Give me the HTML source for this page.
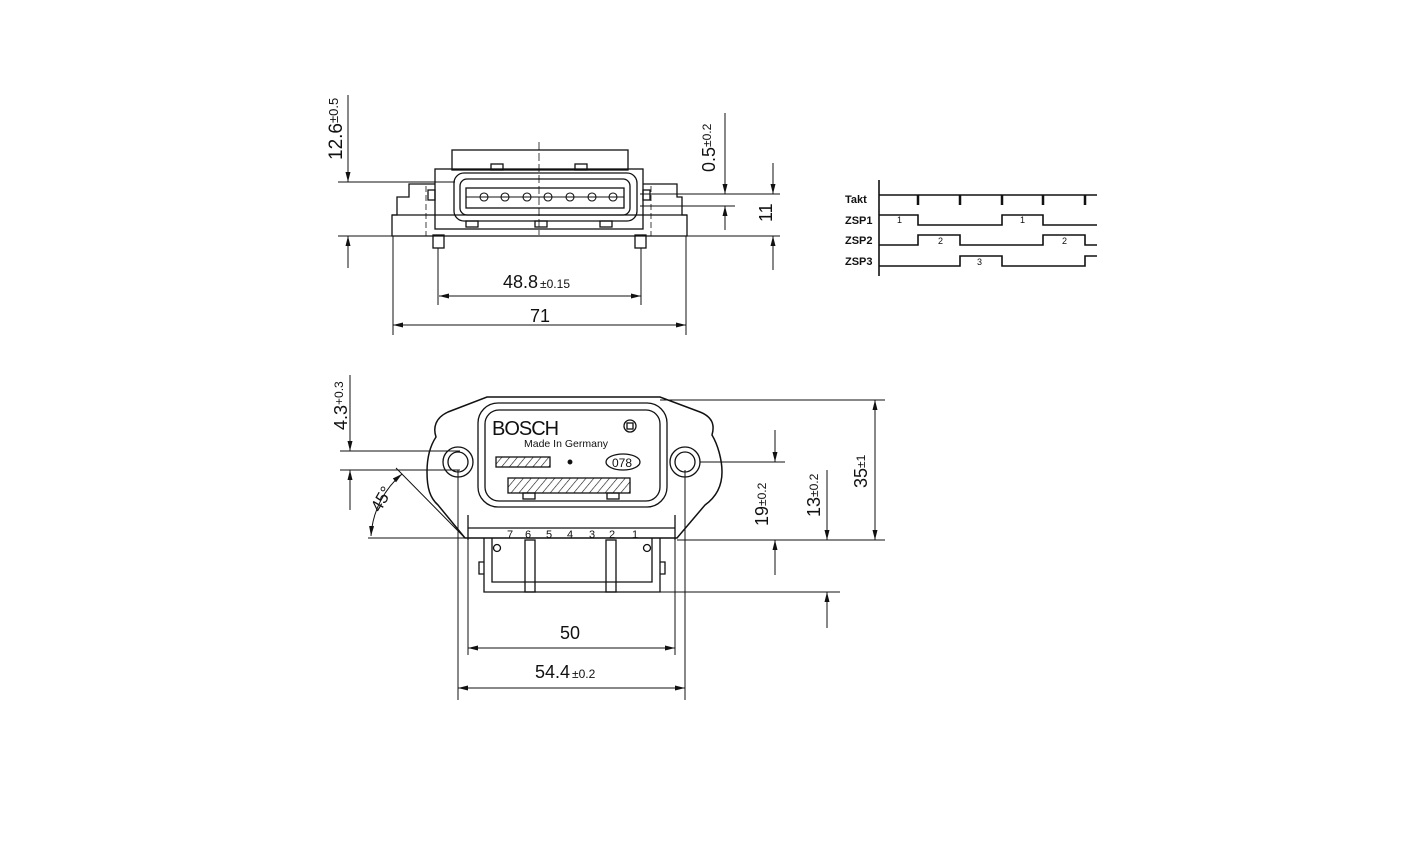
<!DOCTYPE html>
<html><head><meta charset="utf-8"><style>
html,body{margin:0;padding:0;background:#fff}
svg{display:block}
text{font-family:"Liberation Sans",sans-serif;fill:#111}
</style></head><body>
<svg width="1417" height="844" viewBox="0 0 1417 844" xmlns="http://www.w3.org/2000/svg">
<defs>
<marker id="a" markerWidth="10" markerHeight="6" refX="10" refY="3" orient="auto-start-reverse" markerUnits="userSpaceOnUse"><path d="M0,0.5 L10,3 L0,5.5z" fill="#111"/></marker>
<pattern id="h" width="6" height="6" patternUnits="userSpaceOnUse" patternTransform="rotate(40)"><line x1="0" y1="0" x2="0" y2="6" stroke="#111" stroke-width="1.2"/></pattern>
</defs>
<g stroke="#111" fill="none" stroke-width="1.3">
<rect x="452" y="150" width="176" height="20"/>
<rect x="435" y="169" width="208" height="60"/>
<rect x="454" y="173" width="183" height="48" rx="10"/>
<rect x="460" y="179" width="170" height="36" rx="7"/>
<rect x="466" y="188" width="158" height="20"/>
<g stroke-width="1.1">
<circle cx="484" cy="197" r="4"/><circle cx="505" cy="197" r="4"/><circle cx="527" cy="197" r="4"/><circle cx="548" cy="197" r="4"/><circle cx="570" cy="197" r="4"/><circle cx="592" cy="197" r="4"/><circle cx="613" cy="197" r="4"/>
<line x1="466" y1="197" x2="624" y2="197"/>
</g>
<rect x="491" y="164" width="12" height="6"/><rect x="575" y="164" width="12" height="6"/>
<rect x="466" y="221" width="12" height="6"/><rect x="535" y="221" width="12" height="6"/><rect x="600" y="221" width="12" height="6"/>
<rect x="428" y="190" width="7" height="10"/><rect x="643" y="190" width="7" height="10"/>
<path d="M435,184 H409 V197 H397 V215 H392 V236 H687 V215 H682 V197 H677 V184 H643"/>
<line x1="392" y1="215" x2="687" y2="215"/>
<rect x="433" y="235" width="11" height="13"/><rect x="635" y="235" width="11" height="13"/>
<line x1="539" y1="142" x2="539" y2="235" stroke-width="0.8" stroke-dasharray="8,3"/>
<line x1="426" y1="186" x2="426" y2="236" stroke-width="0.8" stroke-dasharray="6,3"/>
<line x1="651" y1="186" x2="651" y2="236" stroke-width="0.8" stroke-dasharray="6,3"/>
<g stroke-width="1">
<line x1="338" y1="182" x2="455" y2="182"/>
<line x1="338" y1="236" x2="780" y2="236"/>
<line x1="348" y1="95" x2="348" y2="182" marker-end="url(#a)"/>
<line x1="348" y1="268" x2="348" y2="236" marker-end="url(#a)"/>
<line x1="640" y1="194" x2="780" y2="194"/>
<line x1="640" y1="206" x2="735" y2="206"/>
<line x1="725" y1="113" x2="725" y2="194" marker-end="url(#a)"/>
<line x1="725" y1="230" x2="725" y2="206" marker-end="url(#a)"/>
<line x1="773" y1="163" x2="773" y2="194" marker-end="url(#a)"/>
<line x1="773" y1="270" x2="773" y2="236" marker-end="url(#a)"/>
<line x1="438" y1="248" x2="438" y2="305"/><line x1="641" y1="248" x2="641" y2="305"/>
<line x1="439" y1="296" x2="641" y2="296" marker-start="url(#a)" marker-end="url(#a)"/>
<line x1="393" y1="236" x2="393" y2="335"/><line x1="686" y1="236" x2="686" y2="335"/>
<line x1="393" y1="325" x2="686" y2="325" marker-start="url(#a)" marker-end="url(#a)"/>
</g>
<g stroke-width="1.6">
<line x1="879" y1="180" x2="879" y2="276"/>
<line x1="879" y1="195" x2="1097" y2="195"/>
<path d="M918,195 V205 M960,195 V205 M1002,195 V205 M1043,195 V205 M1085,195 V205" stroke-width="2.5"/>
<path d="M879,215 H918 V225 H1002 V215 H1043 V225 H1097"/>
<path d="M879,245 H918 V235 H960 V245 H1043 V235 H1085 V245 H1097"/>
<path d="M879,266 H960 V256 H1002 V266 H1085 V256 H1097"/>
</g>
<path d="M487,397 H660 L700,412 C715,418 714,428 712,435 C718,445 722,460 722,472 C722,490 712,500 705,505 L677,538 H465 L438,505 C430,498 427,488 427,472 C427,458 430,446 436,437 C433,428 435,418 448,412 Z" stroke-width="1.5"/>
<rect x="478" y="403" width="189" height="104" rx="20"/>
<rect x="485" y="410" width="175" height="91" rx="14"/>
<circle cx="458" cy="462" r="15"/><circle cx="458" cy="462" r="10"/>
<circle cx="685" cy="462" r="15"/><circle cx="685" cy="462" r="10"/>
<line x1="468" y1="528" x2="675" y2="528"/>
<line x1="468" y1="515" x2="468" y2="540"/><line x1="675" y1="515" x2="675" y2="540"/>
<path d="M484,538 V592 H660 V538"/>
<path d="M492,538 V582 H652 V538"/>
<rect x="525" y="540" width="10" height="52"/><rect x="606" y="540" width="10" height="52"/>
<circle cx="497" cy="548" r="3.5"/><circle cx="647" cy="548" r="3.5"/>
<path d="M484,562 H479 V574 H484 M660,562 H665 V574 H660"/>
<rect x="496" y="457" width="54" height="10" fill="url(#h)"/>
<rect x="508" y="478" width="122" height="15" fill="url(#h)"/>
<rect x="523" y="493" width="12" height="6"/><rect x="607" y="493" width="12" height="6"/>
<ellipse cx="623" cy="462" rx="17" ry="8"/>
<circle cx="630" cy="426" r="6"/><rect x="627" y="423" width="6" height="6"/>
<circle cx="570" cy="462" r="1.8" fill="#111"/>
<g stroke-width="1">
<line x1="340" y1="451" x2="460" y2="451"/>
<line x1="340" y1="470" x2="460" y2="470"/>
<line x1="350" y1="375" x2="350" y2="451" marker-end="url(#a)"/>
<line x1="350" y1="510" x2="350" y2="470" marker-end="url(#a)"/>
<line x1="368" y1="538" x2="465" y2="538"/>
<line x1="396" y1="468" x2="465" y2="538"/>
<path d="M371,536 A88,88 0 0 1 402,474" marker-start="url(#a)" marker-end="url(#a)"/>
<line x1="660" y1="400" x2="885" y2="400"/>
<line x1="677" y1="540" x2="885" y2="540"/>
<line x1="875" y1="400" x2="875" y2="540" marker-start="url(#a)" marker-end="url(#a)"/>
<line x1="700" y1="462" x2="785" y2="462"/>
<line x1="775" y1="430" x2="775" y2="462" marker-end="url(#a)"/>
<line x1="775" y1="575" x2="775" y2="540" marker-end="url(#a)"/>
<line x1="660" y1="592" x2="840" y2="592"/>
<line x1="827" y1="470" x2="827" y2="540" marker-end="url(#a)"/>
<line x1="827" y1="628" x2="827" y2="592" marker-end="url(#a)"/>
<line x1="458" y1="470" x2="458" y2="700"/><line x1="685" y1="470" x2="685" y2="700"/>
<line x1="468" y1="540" x2="468" y2="655"/><line x1="675" y1="540" x2="675" y2="655"/>
<line x1="468" y1="648" x2="675" y2="648" marker-start="url(#a)" marker-end="url(#a)"/>
<line x1="458" y1="688" x2="685" y2="688" marker-start="url(#a)" marker-end="url(#a)"/>
</g>
</g>
<text transform="translate(342,160) rotate(-90)" font-size="19">12.6<tspan font-size="13" dy="-4">±0.5</tspan></text>
<text transform="translate(715,172) rotate(-90)" font-size="18">0.5<tspan font-size="12" dy="-4">±0.2</tspan></text>
<text transform="translate(772,222) rotate(-90)" font-size="18">11</text>
<text x="503" y="288" font-size="18">48.8<tspan font-size="12" dx="2">±0.15</tspan></text>
<text x="530" y="322" font-size="18">71</text>
<g font-size="11" font-weight="bold">
<text x="845" y="203">Takt</text><text x="845" y="224">ZSP1</text><text x="845" y="244">ZSP2</text><text x="845" y="265">ZSP3</text>
</g>
<g font-size="9"><text x="897" y="223">1</text><text x="1020" y="223">1</text><text x="938" y="244">2</text><text x="1062" y="244">2</text><text x="977" y="265">3</text></g>
<text transform="translate(347,430) rotate(-90)" font-size="18">4.3<tspan font-size="12" dy="-4">+0.3</tspan></text>
<text transform="translate(380,513) rotate(-60)" font-size="17">45°</text>
<text transform="translate(867,488) rotate(-90)" font-size="18">35<tspan font-size="12" dy="-2">±1</tspan></text>
<text transform="translate(768,526) rotate(-90)" font-size="18">19<tspan font-size="12" dy="-2">±0.2</tspan></text>
<text transform="translate(820,517) rotate(-90)" font-size="18">13<tspan font-size="12" dy="-2">±0.2</tspan></text>
<text x="560" y="639" font-size="18">50</text>
<text x="535" y="678" font-size="18">54.4<tspan font-size="12" dx="2">±0.2</tspan></text>
<text x="492" y="435" font-size="20" letter-spacing="-1">BOSCH</text>
<text x="524" y="447" font-size="10.5">Made In Germany</text>
<text x="612" y="467" font-size="12">078</text>
<g font-size="11"><text x="507" y="538">7</text><text x="525" y="538">6</text><text x="546" y="538">5</text><text x="567" y="538">4</text><text x="589" y="538">3</text><text x="609" y="538">2</text><text x="632" y="538">1</text></g>
</svg>
</body></html>
